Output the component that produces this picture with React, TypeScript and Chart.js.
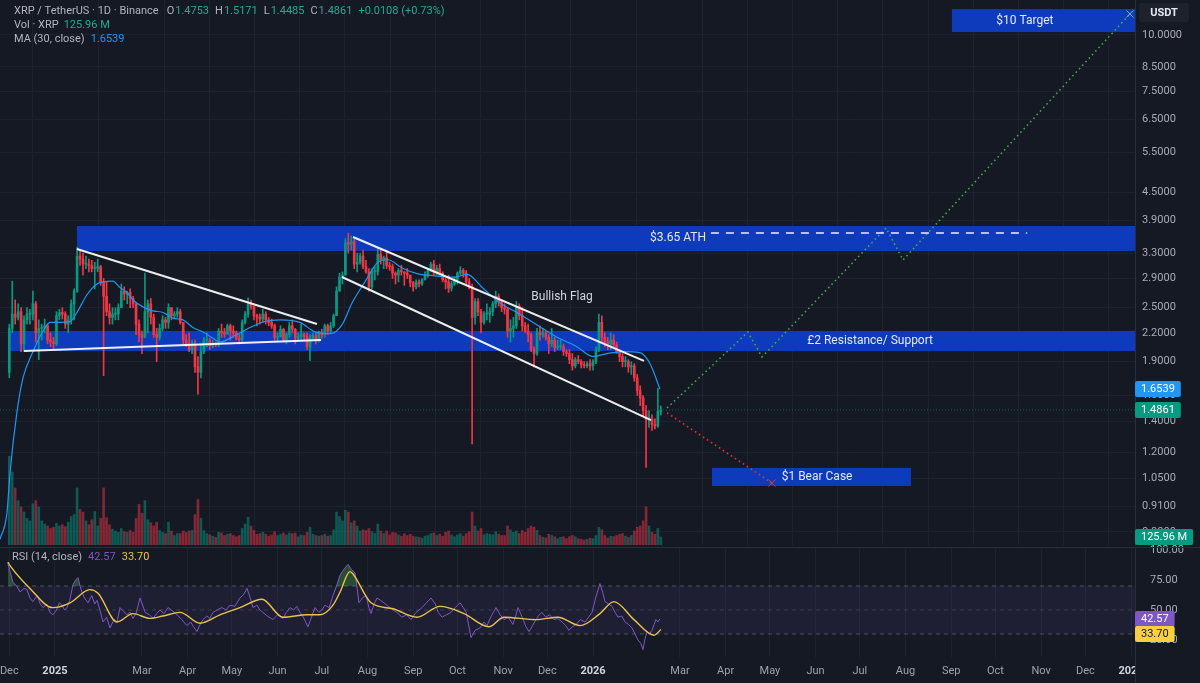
import React, { useEffect, useRef } from 'react';
import { Chart, registerables } from 'chart.js';

Chart.register(...registerables);

// ------------------------------------------------------------------ data
// day 0 = 1 Jan 2025; 2-day candles starting 30 Nov 2024 (last one is a single day)
const START_DAY = -32;
const FIRST_OPEN = 1.8;
// [high, low, close]  (open = previous close)
const candles: number[][] = [
  [2.30, 1.75, 2.25], [2.86, 2.20, 2.42], [2.60, 2.30, 2.38], [2.55, 2.35, 2.45], [2.50, 2.00, 2.08],
  [2.40, 2.00, 2.35], [2.50, 2.30, 2.42], [2.48, 2.30, 2.42], [2.72, 2.35, 2.55], [2.58, 2.10, 2.20],
  [2.35, 1.92, 2.25], [2.30, 2.12, 2.25], [2.36, 2.20, 2.28], [2.30, 2.08, 2.12], [2.20, 2.05, 2.10],
  [2.15, 2.02, 2.08], [2.45, 2.06, 2.40], [2.48, 2.35, 2.44], [2.50, 2.36, 2.42], [2.45, 2.25, 2.30],
  [2.40, 2.20, 2.35], [2.60, 2.30, 2.55], [2.75, 2.35, 2.72], [3.40, 2.70, 3.25], [3.35, 3.10, 3.20],
  [3.30, 2.95, 3.12], [3.25, 3.05, 3.12], [3.20, 3.00, 3.10], [3.18, 3.00, 3.05], [3.15, 2.75, 3.05],
  [3.20, 3.00, 3.08], [3.10, 2.80, 2.85], [2.90, 1.77, 2.65], [2.85, 2.40, 2.45], [2.55, 2.30, 2.38],
  [2.50, 2.30, 2.42], [2.50, 2.35, 2.42], [2.55, 2.35, 2.50], [2.82, 2.50, 2.72], [2.78, 2.60, 2.68],
  [2.72, 2.55, 2.70], [2.75, 2.50, 2.62], [2.65, 2.50, 2.55], [2.55, 2.18, 2.30], [2.35, 2.10, 2.18],
  [2.22, 1.98, 2.15], [2.98, 2.15, 2.45], [2.60, 2.20, 2.55], [2.62, 2.30, 2.38], [2.42, 2.15, 2.18],
  [2.25, 1.90, 2.15], [2.30, 2.12, 2.25], [2.40, 2.22, 2.35], [2.38, 2.25, 2.32], [2.55, 2.25, 2.50],
  [2.50, 2.35, 2.40], [2.45, 2.36, 2.42], [2.50, 2.38, 2.45], [2.48, 2.30, 2.32], [2.30, 2.08, 2.12],
  [2.18, 2.05, 2.08], [2.20, 2.00, 2.02], [2.12, 1.98, 2.08], [2.12, 1.80, 1.85], [1.95, 1.61, 1.80],
  [2.08, 1.75, 2.00], [2.15, 1.98, 2.12], [2.20, 2.05, 2.12], [2.14, 2.02, 2.06], [2.12, 2.04, 2.08],
  [2.10, 2.05, 2.07], [2.25, 2.05, 2.22], [2.30, 2.15, 2.20], [2.25, 2.15, 2.19], [2.30, 2.18, 2.28],
  [2.30, 2.12, 2.22], [2.28, 2.15, 2.20], [2.22, 2.12, 2.14], [2.18, 2.08, 2.12], [2.35, 2.10, 2.32],
  [2.45, 2.30, 2.42], [2.63, 2.38, 2.55], [2.60, 2.48, 2.52], [2.52, 2.35, 2.40], [2.42, 2.28, 2.38],
  [2.42, 2.30, 2.36], [2.48, 2.32, 2.42], [2.45, 2.30, 2.35], [2.38, 2.28, 2.32], [2.36, 2.25, 2.28],
  [2.30, 2.12, 2.15], [2.20, 2.10, 2.16], [2.28, 2.15, 2.24], [2.25, 2.10, 2.12], [2.20, 2.08, 2.18],
  [2.32, 2.15, 2.28], [2.35, 2.20, 2.24], [2.25, 2.08, 2.14], [2.20, 2.12, 2.16], [2.30, 2.12, 2.18],
  [2.20, 2.12, 2.16], [2.20, 2.02, 2.05], [2.18, 1.91, 2.15], [2.20, 2.12, 2.17], [2.20, 2.08, 2.12],
  [2.22, 2.10, 2.20], [2.24, 2.14, 2.18], [2.30, 2.15, 2.28], [2.30, 2.18, 2.22], [2.32, 2.20, 2.28],
  [2.42, 2.26, 2.40], [2.78, 2.40, 2.72], [2.98, 2.72, 2.92], [3.00, 2.82, 2.95], [3.55, 2.95, 3.48],
  [3.65, 3.30, 3.45], [3.60, 3.35, 3.50], [3.55, 3.05, 3.12], [3.30, 3.00, 3.15], [3.30, 3.12, 3.25],
  [3.35, 3.05, 3.08], [3.18, 2.98, 3.00], [3.05, 2.72, 2.78], [3.05, 2.75, 3.00], [3.08, 2.88, 3.00],
  [3.38, 2.95, 3.28], [3.35, 3.12, 3.18], [3.25, 3.05, 3.22], [3.35, 3.05, 3.10], [3.15, 3.02, 3.08],
  [3.12, 2.90, 2.98], [3.00, 2.82, 2.95], [3.05, 2.85, 3.02], [3.10, 2.95, 3.00], [3.00, 2.80, 2.98],
  [3.05, 2.90, 2.95], [2.95, 2.78, 2.84], [2.86, 2.72, 2.78], [2.88, 2.75, 2.85], [2.88, 2.78, 2.82],
  [2.90, 2.80, 2.88], [3.00, 2.88, 2.95], [3.05, 2.92, 3.02], [3.15, 3.00, 3.12], [3.18, 2.95, 2.98],
  [3.10, 2.95, 3.05], [3.12, 2.95, 2.98], [3.00, 2.85, 2.88], [2.90, 2.75, 2.85], [2.95, 2.70, 2.76],
  [2.86, 2.72, 2.82], [2.92, 2.80, 2.88], [3.00, 2.82, 2.98], [3.08, 2.95, 3.02], [3.05, 2.92, 2.98],
  [3.02, 2.82, 2.85], [2.90, 2.75, 2.78], [2.82, 1.25, 2.38], [2.62, 2.30, 2.58], [2.62, 2.40, 2.45],
  [2.48, 2.20, 2.32], [2.45, 2.30, 2.42], [2.55, 2.35, 2.42], [2.50, 2.32, 2.45], [2.58, 2.40, 2.55],
  [2.72, 2.50, 2.65], [2.68, 2.52, 2.58], [2.60, 2.45, 2.50], [2.55, 2.42, 2.48], [2.50, 2.15, 2.22],
  [2.35, 2.10, 2.25], [2.38, 2.15, 2.28], [2.58, 2.25, 2.52], [2.55, 2.35, 2.40], [2.50, 2.22, 2.28],
  [2.32, 2.20, 2.22], [2.30, 2.10, 2.18], [2.20, 2.00, 2.02], [2.05, 1.85, 1.98], [2.25, 1.96, 2.20],
  [2.28, 2.12, 2.18], [2.25, 2.15, 2.20], [2.22, 2.12, 2.15], [2.18, 1.98, 2.08], [2.25, 2.05, 2.12],
  [2.15, 2.00, 2.04], [2.12, 2.02, 2.05], [2.12, 2.02, 2.05], [2.08, 1.96, 2.00], [2.02, 1.95, 1.98],
  [2.02, 1.88, 1.92], [1.98, 1.82, 1.86], [1.94, 1.84, 1.92], [1.96, 1.88, 1.90], [1.92, 1.84, 1.87],
  [1.90, 1.84, 1.86], [1.90, 1.84, 1.88], [1.92, 1.82, 1.86], [1.92, 1.82, 1.90], [2.05, 1.88, 2.02],
  [2.42, 2.00, 2.32], [2.40, 2.10, 2.15], [2.20, 2.05, 2.10], [2.15, 2.02, 2.08], [2.20, 2.02, 2.12],
  [2.18, 2.05, 2.07], [2.10, 1.98, 2.00], [2.02, 1.90, 1.95], [1.98, 1.85, 1.90], [1.95, 1.85, 1.90],
  [1.92, 1.80, 1.85], [1.90, 1.78, 1.86], [1.88, 1.72, 1.75], [1.78, 1.60, 1.64], [1.68, 1.52, 1.58],
  [1.60, 1.44, 1.48], [1.52, 1.11, 1.42], [1.48, 1.36, 1.42], [1.45, 1.34, 1.38], [1.42, 1.35, 1.37],
  [1.66, 1.36, 1.4753], [1.5171, 1.4485, 1.4861],
];
// volume per candle, millions of XRP
const volumesM: number[] = [
  1400, 1150, 900, 700, 600, 520, 420, 380, 650, 700,
  600, 380, 330, 300, 260, 280, 340, 300, 320, 290,
  360, 450, 480, 900, 560, 520, 380, 320, 400, 530,
  300, 420, 900, 430, 320, 250, 220, 200, 260, 210,
  200, 230, 200, 420, 640, 500, 700, 400, 350, 300,
  360, 230, 200, 180, 360, 220, 150, 180, 180, 220,
  200, 220, 230, 480, 720, 420, 230, 180, 160, 140,
  120, 200, 190, 150, 170, 180, 150, 130, 150, 260,
  330, 440, 300, 230, 170, 180, 200, 170, 140, 160,
  210, 150, 170, 190, 160, 190, 180, 190, 130, 160,
  150, 200, 280, 170, 150, 140, 150, 170, 140, 150,
  240, 520, 450, 380, 550, 520, 350, 380, 300, 220,
  240, 230, 260, 210, 180, 330, 220, 180, 220, 160,
  200, 190, 160, 140, 180, 150, 170, 140, 130, 120,
  110, 140, 150, 180, 190, 150, 170, 140, 200, 220,
  160, 130, 160, 180, 140, 180, 210, 520, 300, 220,
  260, 160, 180, 170, 160, 210, 170, 150, 150, 300,
  240, 200, 220, 180, 230, 200, 260, 300, 280, 230,
  150, 120, 110, 170, 150, 130, 100, 120, 130, 100,
  130, 150, 130, 100, 90, 80, 90, 110, 100, 150,
  280, 240, 150, 110, 140, 130, 150, 170, 180, 140,
  120, 150, 220, 280, 300, 380, 600, 300, 200, 170,
  260, 126,
];

const maDays = [-37.3, -32.6, -30.5, -25.8, -21.7, -14.9, -8.1, -3.4, 3.4, 10.2, 14.9, 21.7, 28.5, 32.6, 39.3, 44.1, 48.8, 52.9, 59.7, 66.5, 73.3, 80.1, 86.8, 93.6, 100.4, 107.2, 111.9, 122.1, 132.3, 142.5, 152.6, 166.2, 176.4, 186.6, 194.7, 201.5, 210.3, 219.1, 225.9, 235.4, 246.3, 257.8, 271.4, 279.5, 290.4, 301.9, 313.4, 327, 340.6, 354.1, 365, 374.5, 385.3, 396.9, 403.7, 410.4];
const maValues = [0.77, 0.88, 1.08, 1.47, 1.75, 2.0, 2.22, 2.32, 2.32, 2.33, 2.44, 2.67, 2.82, 2.85, 2.86, 2.77, 2.70, 2.60, 2.51, 2.46, 2.44, 2.37, 2.35, 2.26, 2.21, 2.14, 2.10, 2.17, 2.26, 2.33, 2.35, 2.32, 2.21, 2.19, 2.29, 2.56, 2.85, 3.15, 3.19, 3.06, 2.97, 2.94, 2.92, 2.96, 2.76, 2.56, 2.44, 2.29, 2.15, 2.05, 1.95, 1.98, 2.0, 1.99, 1.88, 1.6539];

const rsiDays = [-32, -30, -28.5, -26, -23.7, -21, -19, -17, -15, -12, -10, -8, -5.5, -3.4, -1.4, 1, 3, 4.7, 6.5, 8.1, 10, 12.2, 14, 15.6, 17, 18.3, 20, 22.4, 25, 27, 28.5, 30.5, 32.6, 35, 37.3, 40, 42.1, 44.1, 46.5, 48.8, 51, 52.9, 55, 57.7, 59.5, 61.1, 64, 66.5, 69, 71.2, 74, 76.7, 80, 82.8, 86, 89.6, 92, 94, 96.3, 98.5, 100.4, 103, 105, 107.2, 110, 113.3, 116, 118.7, 122, 125.5, 128, 130.3, 132.5, 134.3, 137, 139, 141.1, 144, 147.9, 151, 154.7, 157, 159.4, 162, 164, 166.2, 168.5, 171.6, 174, 176.4, 179, 181, 183.2, 186, 188.6, 191, 193.4, 196, 198.8, 201, 203.5, 205, 206.2, 208.5, 211, 213, 214.4, 216.5, 218.5, 221, 223.2, 226, 229.3, 232, 235.4, 238.5, 241.5, 245, 249, 252, 255.1, 258, 260, 262.6, 265.5, 268.7, 271.5, 274.8, 277, 279, 282.2, 285, 288.3, 291, 293.1, 296, 299.2, 302, 304.6, 307.5, 310.7, 312.5, 314.1, 317, 319.5, 321.6, 324, 326.3, 328.5, 330.4, 333, 335.5, 338.5, 341, 344, 346.5, 348.7, 351, 353.5, 356.5, 359.6, 362, 364.3, 367, 369.7, 371.5, 373.1, 375.5, 377.9, 380, 382, 384.5, 386.7, 389, 391.5, 393.5, 395.5, 397.5, 398.9, 400.3, 401.6, 403.3, 405, 406.5, 407.7, 409, 410.4];
const rsiValues = [89, 80, 73, 70, 65, 68, 67, 60, 57, 62, 55, 52, 55, 48, 46, 50, 56, 54, 50, 52, 58, 71, 75, 77, 70, 65, 60, 56, 62, 55, 58, 50, 40, 44, 35, 42, 40, 52, 49, 46, 48, 43, 47, 60, 54, 48, 46, 43, 47, 50, 47, 52, 49, 46, 42, 37, 40, 36, 32, 38, 42, 45, 43, 48, 50, 52, 50, 54, 53, 60, 63, 68, 60, 52, 54, 50, 48, 45, 42, 46, 43, 48, 52, 50, 53, 48, 44, 36, 44, 52, 48, 50, 54, 52, 62, 70, 79, 84, 88, 84, 81, 68, 56, 60, 62, 52, 47, 55, 60, 58, 56, 53, 50, 48, 44, 46, 42, 48, 52, 56, 60, 55, 48, 44, 46, 48, 52, 56, 52, 48, 27, 33, 35, 40, 37, 45, 52, 46, 42, 44, 38, 45, 52, 44, 36, 32, 37, 42, 46, 48, 44, 46, 42, 43, 40, 37, 33, 36, 38, 42, 40, 44, 48, 61, 72, 65, 57, 55, 53, 48, 44, 45, 40, 38, 35, 30, 25, 22, 17, 26, 32, 30, 33, 38, 42, 40, 42.57];

const rsiMaDays = [-32, -30.5, -17, -1.4, 10.2, 23.7, 29.2, 42.1, 52.9, 64.4, 73.3, 84.8, 98.4, 111.9, 125.5, 140.4, 154.7, 171, 179.8, 188.6, 193.4, 200.1, 202.2, 214.4, 229.3, 245.6, 261.2, 277.5, 294.4, 304.6, 326.3, 341.2, 356.2, 369.7, 379.2, 392.8, 406.4, 411.1];
const rsiMaValues = [90, 87, 68, 52, 56, 67, 64, 40, 47, 43, 45, 48, 39, 46, 52, 59, 44, 46, 46, 54, 65, 82, 80, 56, 51, 44, 53, 47, 36, 44, 42, 44, 37, 47, 57, 42, 29, 33.7];

// drawings
const triangleTopDays = [14.9, 177.7];
const triangleTopPrices = [3.369, 2.301];
const triangleBottomDays = [-21, 180.5];
const triangleBottomPrices = [2.006, 2.121];
const flagTopDays = [202.2, 399.6];
const flagTopPrices = [3.581, 1.907];
const flagBottomDays = [194.7, 404.3];
const flagBottomPrices = [2.922, 1.412];
const bullPathDays = [415.2, 470.1, 479.6, 563.8, 575.3, 729.3];
const bullPathPrices = [1.501, 2.209, 1.946, 3.749, 3.186, 11.13];
const bearPathDays = [415.2, 486.4];
const bearPathPrices = [1.465, 1.025];
const athDashDays = [445, 659.5];
const ATH_LEVEL = 3.655;

const zoneLabels = ['$3.65 ATH', '£2 Resistance/ Support', '$10 Target', '$1 Bear Case'];
const zoneStartDays = [14.9, -31.2, 608.5, 445.7];
const zoneEndDays = [732.7, 732.7, 732.7, 580.7];
const zoneLowPrices = [3.335, 2.006, 10.15, 1.01];
const zoneHighPrices = [3.787, 2.221, 11.41, 1.107];
const zoneLabelDays = [422.7, 553, 658, 517];
const flagLabel = 'Bullish Flag';
const flagLabelDay = 344;
const flagLabelPrice = 2.64;

// ticks
const priceTicks = [0.8, 0.91, 1.05, 1.2, 1.4, 1.6, 1.9, 2.2, 2.5, 2.9, 3.3, 3.9, 4.5, 5.5, 6.5, 7.5, 8.5, 10];
const rsiTicks = [25, 50, 75, 100];
const monthTickDays = [-31, 0, 59, 90, 120, 151, 181, 212, 243, 273, 304, 334, 365, 424, 455, 485, 516, 546, 577, 608, 638, 669, 699, 730];
const monthTickLabels = ['Dec', '2025', 'Mar', 'Apr', 'May', 'Jun', 'Jul', 'Aug', 'Sep', 'Oct', 'Nov', 'Dec', '2026', 'Mar', 'Apr', 'May', 'Jun', 'Jul', 'Aug', 'Sep', 'Oct', 'Nov', 'Dec', '2027'];

// legend texts / last values
const symbolTitle = 'XRP / TetherUS · 1D · Binance';
const ohlcLetters = ['O', 'H', 'L', 'C'];
const ohlcValues = ['1.4753', '1.5171', '1.4485', '1.4861'];
const changeText = '+0.0108 (+0.73%)';
const volTitle = 'Vol · XRP';
const maTitle = 'MA (30, close)';
const rsiTitle = 'RSI (14, close)';
const LAST_CLOSE = 1.4861;
const LAST_MA = 1.6539;
const LAST_VOL = 125.96;
const LAST_RSI = 42.57;
const LAST_RSI_MA = 33.7;

// ------------------------------------------------------------------ style
const FONT = "Roboto, 'Noto Sans', 'DejaVu Sans', sans-serif";
const BG = '#151924';
const GRID = '#1d2130';
const BORDER = '#2a2e39';
const AXIS_TEXT = '#a9acb5';
const LABEL_GRAY = '#b2b5be';
const UP = '#089981';
const DOWN = '#f23645';
const LEG_GREEN = '#22ab94';
const MA_BLUE = '#2196f3';
const RSI_PURPLE = '#7e57c2';
const RSI_YELLOW = '#ebc34a';
const ZONE = '#0d3bbb';

const X_MIN = -37.3;
const X_MAX = 732.7;
const PRICE_MIN = 0.7481;
const PRICE_MAX = 11.947;
const VOL_MAX = 8600;
const RSI_MIN = 10.83;
const RSI_MAX = 102.5;

Chart.defaults.font.family = FONT;
Chart.defaults.font.size = 11;

const pts = (xs: number[], ys: number[]) => xs.map((x, i) => ({ x, y: ys[i] }));

function drawSegments(ctx: any, x: number, y: number, segs: any[]) {
  let cx = x;
  for (const [text, color, gap] of segs) {
    cx += gap || 0;
    ctx.fillStyle = color;
    ctx.fillText(text, cx, y);
    cx += ctx.measureText(text).width;
  }
}

function drawTag(ctx: any, x: number, yc: number, text: string, bg: string, fg: string) {
  ctx.font = `11px ${FONT}`;
  const w = ctx.measureText(text).width + 12;
  ctx.fillStyle = bg;
  ctx.beginPath();
  ctx.roundRect(x, yc - 8, w, 16, 2);
  ctx.fill();
  ctx.fillStyle = fg;
  ctx.textAlign = 'left';
  ctx.textBaseline = 'middle';
  ctx.fillText(text, x + 6, yc + 0.5);
}

const priceOverlay = {
  id: 'priceOverlay',
  beforeDatasetsDraw(chart: any) {
    const { ctx, chartArea, scales } = chart;
    const x = scales.x, y = scales.y;
    ctx.save();
    ctx.beginPath();
    ctx.rect(chartArea.left, chartArea.top, chartArea.width, chartArea.height);
    ctx.clip();
    ctx.fillStyle = ZONE;
    zoneLabels.forEach((_, i) => {
      const x0 = x.getPixelForValue(zoneStartDays[i]);
      const x1 = x.getPixelForValue(zoneEndDays[i]);
      const y0 = y.getPixelForValue(zoneHighPrices[i]);
      const y1 = y.getPixelForValue(zoneLowPrices[i]);
      ctx.fillRect(x0, y0, x1 - x0, y1 - y0);
    });
    ctx.restore();
  },
  afterDatasetsDraw(chart: any) {
    const { ctx, scales } = chart;
    const x = scales.x, y = scales.y;
    ctx.save();
    ctx.font = `12px ${FONT}`;
    ctx.textAlign = 'center';
    ctx.textBaseline = 'middle';
    ctx.fillStyle = '#e6e8ee';
    zoneLabels.forEach((label, i) => {
      const yc = (y.getPixelForValue(zoneHighPrices[i]) + y.getPixelForValue(zoneLowPrices[i])) / 2;
      ctx.fillText(label, x.getPixelForValue(zoneLabelDays[i]), yc);
    });
    ctx.fillStyle = '#d1d4dc';
    ctx.fillText(flagLabel, x.getPixelForValue(flagLabelDay), y.getPixelForValue(flagLabelPrice));
    ctx.restore();
  },
  afterDraw(chart: any) {
    const { ctx, chartArea, scales } = chart;
    const y = scales.y, vol = scales.vol;
    ctx.save();
    ctx.font = `11px ${FONT}`;
    ctx.textAlign = 'left';
    ctx.textBaseline = 'middle';
    const line1: any[] = [[symbolTitle, LABEL_GRAY, 0]];
    ohlcLetters.forEach((l, i) => {
      line1.push([l, LABEL_GRAY, i === 0 ? 8 : 6]);
      line1.push([ohlcValues[i], LEG_GREEN, 1]);
    });
    line1.push([changeText, LEG_GREEN, 6]);
    drawSegments(ctx, 14, 11, line1);
    drawSegments(ctx, 14, 25, [[volTitle, LABEL_GRAY, 0], [LAST_VOL.toFixed(2) + ' M', LEG_GREEN, 5]]);
    drawSegments(ctx, 14, 39, [[maTitle, LABEL_GRAY, 0], [LAST_MA.toFixed(4), MA_BLUE, 6]]);

    // currency box
    ctx.fillStyle = '#1e222d';
    ctx.beginPath();
    ctx.roundRect(chartArea.right + 4, 3, 50, 19, 3);
    ctx.fill();
    ctx.fillStyle = '#e6e8ee';
    ctx.font = `bold 11px ${FONT}`;
    ctx.textAlign = 'center';
    ctx.fillText('USDT', chartArea.right + 29, 13);

    // price tags
    const r = chartArea.right;
    drawTag(ctx, r, y.getPixelForValue(LAST_MA), LAST_MA.toFixed(4), MA_BLUE, '#ffffff');
    drawTag(ctx, r, y.getPixelForValue(LAST_CLOSE), LAST_CLOSE.toFixed(4), UP, '#ffffff');
    drawTag(ctx, r, vol.getPixelForValue(LAST_VOL), LAST_VOL.toFixed(2) + ' M', UP, '#ffffff');
    ctx.restore();
  },
};

const rsiOverlay = {
  id: 'rsiOverlay',
  afterDraw(chart: any) {
    const { ctx, chartArea, scales } = chart;
    const y = scales.y;
    ctx.save();
    // cover the time label overflow under the price column
    ctx.fillStyle = BG;
    ctx.fillRect(chartArea.right + 1, chartArea.bottom + 1, 200, 100);
    ctx.strokeStyle = BORDER;
    ctx.lineWidth = 1;
    ctx.beginPath();
    ctx.moveTo(chartArea.right + 0.5, chartArea.top);
    ctx.lineTo(chartArea.right + 0.5, chart.height);
    ctx.moveTo(0, chartArea.top + 0.5);
    ctx.lineTo(chart.width, chartArea.top + 0.5);
    ctx.stroke();

    ctx.font = `11px ${FONT}`;
    ctx.textAlign = 'left';
    ctx.textBaseline = 'middle';
    drawSegments(ctx, 12, chartArea.top + 10, [
      [rsiTitle, LABEL_GRAY, 0],
      [LAST_RSI.toFixed(2), RSI_PURPLE, 6],
      [LAST_RSI_MA.toFixed(2), RSI_YELLOW, 6],
    ]);
    const y1 = y.getPixelForValue(LAST_RSI);
    const y2 = Math.max(y.getPixelForValue(LAST_RSI_MA), y1 + 15);
    drawTag(ctx, chartArea.right, y1, LAST_RSI.toFixed(2), RSI_PURPLE, '#ffffff');
    drawTag(ctx, chartArea.right, y2, LAST_RSI_MA.toFixed(2), '#f5d142', '#131722');
    ctx.restore();
  },
};

function xScale(showLabels: boolean): any {
  return {
    type: 'linear',
    min: X_MIN,
    max: X_MAX,
    offset: false,
    grid: { color: GRID, drawTicks: false, lineWidth: 1 },
    border: { display: false },
    ticks: {
      display: showLabels,
      autoSkip: false,
      maxRotation: 0,
      padding: 8,
      callback: (_v: any, i: number) => monthTickLabels[i],
      color: (c: any) => (/^\d{4}$/.test(monthTickLabels[c.index]) ? '#d1d4dc' : '#9fa2ab'),
      font: (c: any) => ({ family: FONT, size: 11, weight: /^\d{4}$/.test(monthTickLabels[c.index]) ? 'bold' : 'normal' }),
    },
    afterBuildTicks: (s: any) => {
      s.ticks = monthTickDays.map((v) => ({ value: v }));
    },
    afterFit: (s: any) => {
      s.height = showLabels ? 26 : 0;
      s.paddingLeft = 0;
      s.paddingRight = 0;
    },
  };
}

function priceConfig(): any {
  const candleDays = candles.map((_, i) => START_DAY + 2 * i + 1);
  const opens = candles.map((c, i) => (i === 0 ? FIRST_OPEN : candles[i - 1][2]));
  const up = candles.map((c, i) => c[2] >= opens[i]);
  const colors = up.map((u) => (u ? UP : DOWN));
  const volColors = up.map((u) => (u ? 'rgba(8,153,129,0.5)' : 'rgba(242,54,69,0.5)'));
  const white = 'rgba(255,255,255,0.92)';
  const trend = (xs: number[], ys: number[]) => ({
    type: 'line', data: pts(xs, ys), borderColor: white, borderWidth: 2, pointRadius: 0, pointHoverRadius: 0, order: 2,
  });
  const lastIdxBull = bullPathDays.length - 1;
  return {
    type: 'line',
    data: {
      datasets: [
        {
          type: 'line', data: pts(athDashDays, athDashDays.map(() => ATH_LEVEL)),
          borderColor: white, borderWidth: 1.5, borderDash: [8, 7], pointRadius: 0, order: 1,
        },
        {
          type: 'line', data: pts(bullPathDays, bullPathPrices),
          borderColor: 'rgba(76,175,80,0.9)', borderWidth: 1.6, borderDash: [1.6, 3.2],
          pointRadius: bullPathDays.map((_, i) => (i === lastIdxBull ? 5 : 0)),
          pointStyle: 'crossRot', pointBorderColor: 'rgba(120,200,140,0.9)', pointBorderWidth: 1, order: 1,
        },
        {
          type: 'line', data: pts(bearPathDays, bearPathPrices),
          borderColor: 'rgba(229,57,53,0.95)', borderWidth: 1.6, borderDash: [1.6, 3.2],
          pointRadius: bearPathDays.map((_, i) => (i === bearPathDays.length - 1 ? 5 : 0)),
          pointStyle: 'crossRot', pointBorderColor: 'rgba(229,57,53,0.95)', pointBorderWidth: 1, order: 1,
        },
        trend(triangleTopDays, triangleTopPrices),
        trend(triangleBottomDays, triangleBottomPrices),
        trend(flagTopDays, flagTopPrices),
        trend(flagBottomDays, flagBottomPrices),
        {
          type: 'line', data: pts(maDays, maValues), borderColor: MA_BLUE, borderWidth: 1.2,
          pointRadius: 0, cubicInterpolationMode: 'monotone', tension: 0.4, order: 3,
        },
        {
          type: 'bar', data: candles.map((c, i) => ({ x: candleDays[i], y: [Math.min(opens[i], c[2]), Math.max(opens[i], c[2])] })),
          backgroundColor: colors, borderWidth: 0, barThickness: 2, grouped: false, minBarLength: 1, order: 4,
        },
        {
          type: 'bar', data: candles.map((c, i) => ({ x: candleDays[i], y: [c[1], c[0]] })),
          backgroundColor: colors, borderWidth: 0, barThickness: 1, grouped: false, order: 5,
        },
        {
          type: 'line', data: pts([X_MIN, X_MAX], [LAST_CLOSE, LAST_CLOSE]),
          borderColor: 'rgba(8,153,129,0.55)', borderWidth: 1, borderDash: [1, 2], pointRadius: 0, order: 6,
        },
        {
          type: 'bar', yAxisID: 'vol', data: volumesM.map((v, i) => ({ x: candleDays[i], y: v })),
          backgroundColor: volColors, borderWidth: 0, barThickness: 2, grouped: false, order: 7,
        },
      ],
    },
    options: {
      responsive: false,
      animation: false,
      devicePixelRatio: 1,
      events: [],
      layout: { autoPadding: false, padding: { left: 0, right: 0, top: 0, bottom: 2 } },
      plugins: { legend: { display: false }, tooltip: { enabled: false } },
      scales: {
        x: xScale(false),
        y: {
          type: 'logarithmic',
          position: 'right',
          min: PRICE_MIN,
          max: PRICE_MAX,
          bounds: 'data',
          grid: { color: GRID, drawTicks: false },
          border: { display: true, color: BORDER },
          ticks: {
            color: AXIS_TEXT, padding: 7, autoSkip: false,
            font: { family: FONT, size: 11 },
            callback: (v: any) => Number(v).toFixed(4),
          },
          afterBuildTicks: (s: any) => {
            s.ticks = priceTicks.map((v) => ({ value: v }));
          },
          afterFit: (s: any) => {
            s.width = 65;
            s.paddingTop = 0;
            s.paddingBottom = 0;
          },
        },
        vol: { type: 'linear', display: false, min: 0, max: VOL_MAX, position: 'left' },
      },
    },
    plugins: [priceOverlay],
  };
}

function rsiConfig(): any {
  const dash = 'rgba(120,123,134,0.55)';
  return {
    type: 'line',
    data: {
      datasets: [
        {
          data: pts(rsiMaDays, rsiMaValues), borderColor: RSI_YELLOW, borderWidth: 1.4,
          pointRadius: 0, cubicInterpolationMode: 'monotone', tension: 0.4, order: 1,
        },
        {
          data: pts(rsiDays, rsiValues), borderColor: RSI_PURPLE, borderWidth: 1, pointRadius: 0, order: 2,
          fill: { target: { value: 70 }, above: 'rgba(76,175,80,0.35)', below: 'rgba(0,0,0,0)' },
        },
        {
          data: pts([X_MIN, X_MAX], [70, 70]), borderColor: dash, borderWidth: 1, borderDash: [4, 4],
          pointRadius: 0, fill: '+1', backgroundColor: 'rgba(126,87,194,0.1)', order: 10,
        },
        {
          data: pts([X_MIN, X_MAX], [30, 30]), borderColor: dash, borderWidth: 1, borderDash: [4, 4],
          pointRadius: 0, order: 10,
        },
        {
          data: pts([X_MIN, X_MAX], [50, 50]), borderColor: 'rgba(120,123,134,0.35)', borderWidth: 1, borderDash: [4, 4],
          pointRadius: 0, order: 10,
        },
      ],
    },
    options: {
      responsive: false,
      animation: false,
      devicePixelRatio: 1,
      events: [],
      layout: { autoPadding: false, padding: { left: 0, right: 0, top: 7, bottom: 0 } },
      plugins: { legend: { display: false }, tooltip: { enabled: false } },
      scales: {
        x: xScale(true),
        y: {
          type: 'linear',
          position: 'right',
          min: RSI_MIN,
          max: RSI_MAX,
          bounds: 'data',
          grid: { display: false },
          border: { display: true, color: BORDER },
          ticks: {
            color: AXIS_TEXT, padding: 7, autoSkip: false,
            font: { family: FONT, size: 11 },
            callback: (v: any) => Number(v).toFixed(2),
          },
          afterBuildTicks: (s: any) => {
            s.ticks = rsiTicks.map((v) => ({ value: v }));
          },
          afterFit: (s: any) => {
            s.width = 65;
            s.paddingTop = 0;
            s.paddingBottom = 0;
          },
        },
      },
    },
    plugins: [rsiOverlay],
  };
}

export default function App() {
  const priceRef = useRef<HTMLCanvasElement>(null);
  const rsiRef = useRef<HTMLCanvasElement>(null);

  useEffect(() => {
    document.body.style.margin = '0';
    document.body.style.background = BG;
    const a = new Chart(priceRef.current as HTMLCanvasElement, priceConfig());
    const b = new Chart(rsiRef.current as HTMLCanvasElement, rsiConfig());
    return () => {
      a.destroy();
      b.destroy();
    };
  }, []);

  return (
    <div style={{ position: 'relative', width: 1200, height: 683, background: BG, overflow: 'hidden' }}>
      <canvas
        ref={priceRef}
        width={1200}
        height={547}
        style={{ position: 'absolute', left: 0, top: 0, width: 1200, height: 547 }}
      />
      <canvas
        ref={rsiRef}
        width={1200}
        height={143}
        style={{ position: 'absolute', left: 0, top: 540, width: 1200, height: 143 }}
      />
    </div>
  );
}
